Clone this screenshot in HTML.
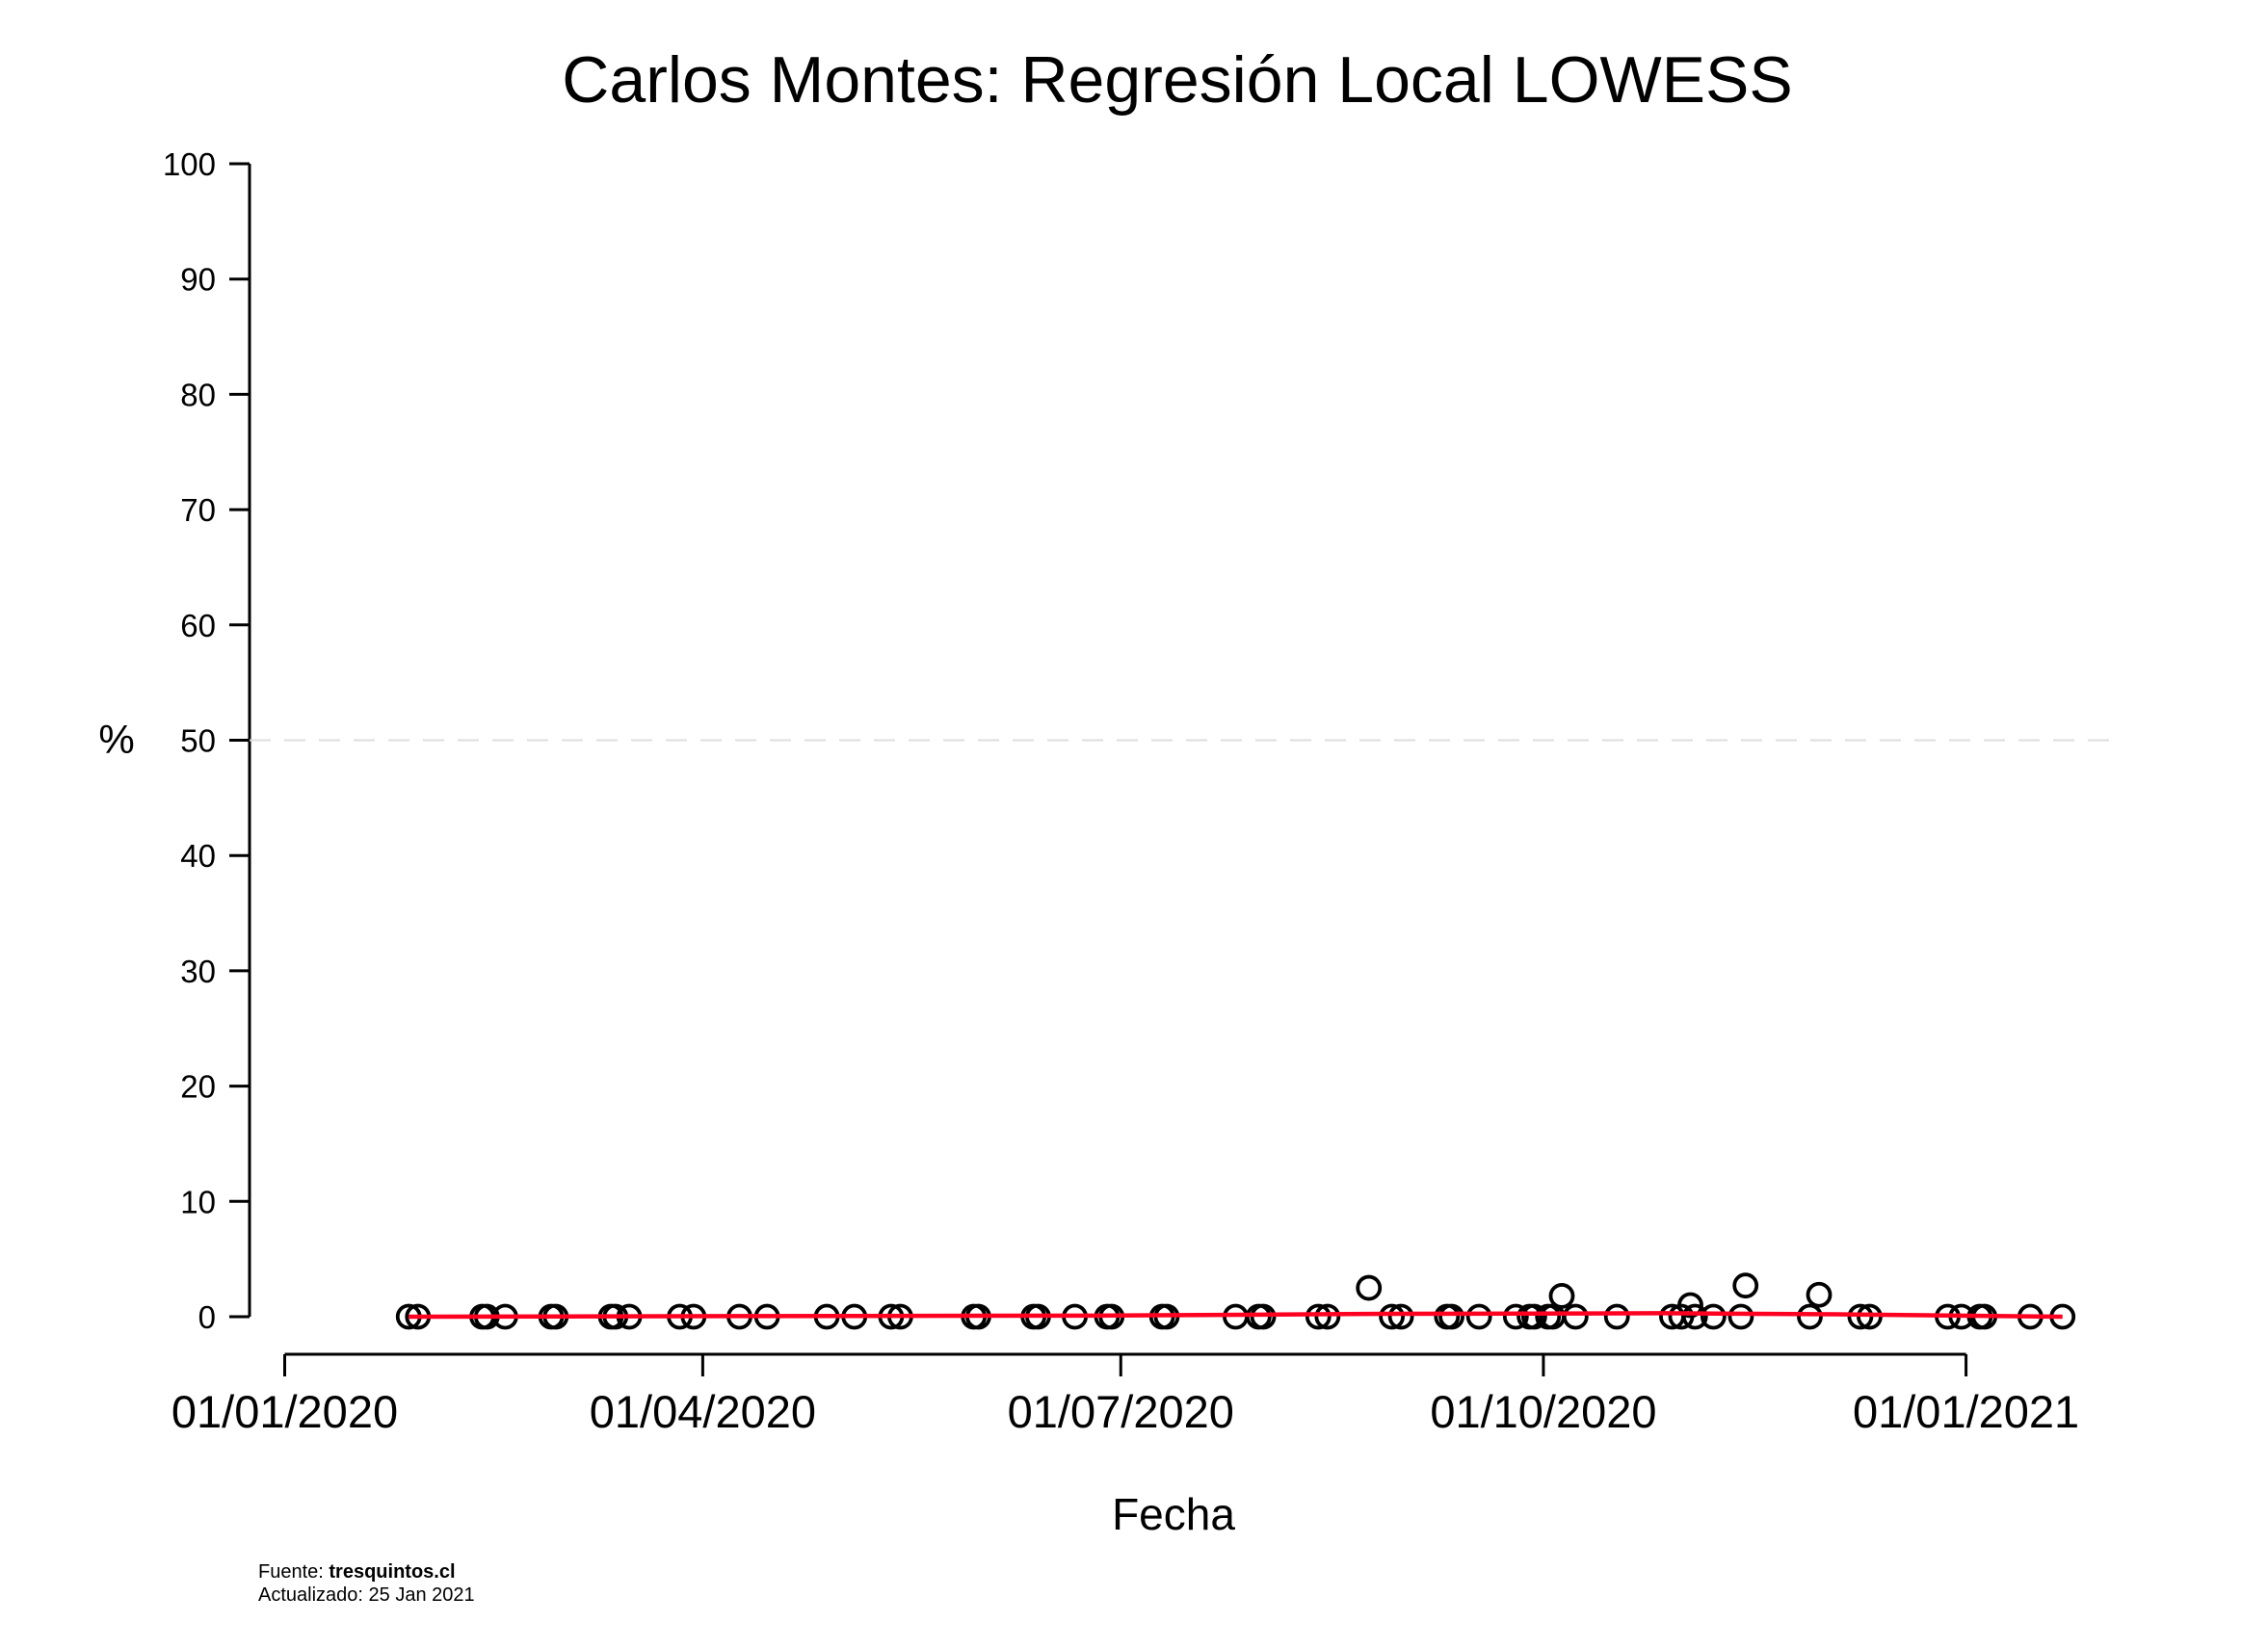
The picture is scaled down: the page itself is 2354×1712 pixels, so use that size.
<!DOCTYPE html>
<html><head><meta charset="utf-8"><style>
body{margin:0;background:#fff}
svg{display:block;font-family:"Liberation Sans",sans-serif}
</style></head><body>
<svg id="chart" width="2354" height="1712" viewBox="0 0 2354 1712">
<text x="1222" y="106" font-size="68" text-anchor="middle">Carlos Montes: Regresión Local LOWESS</text>
<text x="121" y="782" font-size="42" text-anchor="middle">%</text>
<text x="1218" y="1588" font-size="46" text-anchor="middle">Fecha</text>
<text x="268" y="1638" font-size="20">Fuente: <tspan font-weight="bold">tresquintos.cl</tspan></text>
<text x="268" y="1662" font-size="20">Actualizado: 25 Jan 2021</text>
<g id="axes"></g>
<g id="marks"></g>
</svg>
<script>
const yTicks=[0,10,20,30,40,50,60,70,80,90,100];
const xTickDays=[0,91,182,274,366];
const xTickLabels=["01/01/2020","01/04/2020","01/07/2020","01/10/2020","01/01/2021"];
const pointDays=[27,29,43,44,48,58,59,71,72,75,86,89,99,105,118,124,132,134,150,151,163,164,172,179,180,191,192,207,212,213,225,227,236,241,243,253,254,260,268,271,272,275,276,278,281,290,302,304,306,307,311,317,318,332,334,343,345,362,365,369,370,380,387];
const pointValues=[0,0,0,0,0,0,0,0,0,0,0,0,0,0,0,0,0,0,0,0,0,0,0,0,0,0,0,0,0,0,0,0,2.5,0,0,0,0,0,0,0,0,0,0,1.8,0,0,0,0,1.0,0,0,0,2.7,0,1.9,0,0,0,0,0,0,0,0];
const lowessDays=[27,100,180,240,300,340,387];
const lowessValues=[0,0.05,0.1,0.25,0.3,0.2,0.0];

const NS="http://www.w3.org/2000/svg";
const xS=d=>295.5+d*4.768;
const yS=v=>1367-v*11.97;
function mk(tag,attrs,parent){const e=document.createElementNS(NS,tag);for(const k in attrs)e.setAttribute(k,attrs[k]);parent.appendChild(e);return e;}
const axes=document.getElementById('axes'),marks=document.getElementById('marks');

let e=mk('line',{x1:259,x2:259,y1:yS(0),y2:yS(100),stroke:'#000','stroke-width':3},axes);


yTicks.forEach(t=>{
  let l=mk('line',{x1:238,x2:259,y1:yS(t),y2:yS(t),stroke:'#000','stroke-width':3},axes);
  
  
  let tx=mk('text',{x:224,y:yS(t)+12,'font-size':33,'text-anchor':'end'},axes);
  tx.textContent=t;
  
  
});
e=mk('line',{x1:259,x2:2190,y1:yS(50),y2:yS(50),stroke:'#ddd','stroke-width':2,'stroke-dasharray':'22 14'},axes);


e=mk('line',{x1:xS(xTickDays[0]),x2:xS(xTickDays[xTickDays.length-1]),y1:1406,y2:1406,stroke:'#000','stroke-width':3},axes);


xTickDays.forEach((d,i)=>{
  let l=mk('line',{x1:xS(d),x2:xS(d),y1:1406,y2:1429,stroke:'#000','stroke-width':3},axes);
  
  
  let tx=mk('text',{x:xS(d),y:1482,'font-size':47,'text-anchor':'middle'},axes);
  tx.textContent=xTickLabels[i];
  
  
});
pointDays.forEach((d,i)=>{
  let c=mk('circle',{cx:xS(d),cy:yS(pointValues[i]),r:11.5,fill:'none',stroke:'#000','stroke-width':3.8},marks);
  
  
});
const pts=lowessDays.map((d,i)=>xS(d)+','+yS(lowessValues[i])).join(' ');
e=mk('polyline',{points:pts,fill:'none',stroke:'#ff0020','stroke-width':4.5,'stroke-linejoin':'round'},marks);


</script>
</body></html>
